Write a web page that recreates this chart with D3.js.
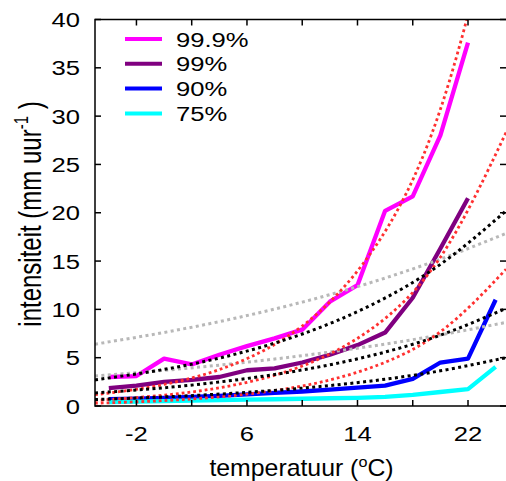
<!DOCTYPE html>
<html>
<head>
<meta charset="utf-8">
<script src="https://cdn.jsdelivr.net/npm/d3@7"></script>
<style>
  body { margin: 0; background: #fff; }
  text { font-family: "Liberation Sans", Arial, Helvetica, sans-serif; fill: #000; }
</style>
</head>
<body>
<svg id="chart" width="506" height="481"></svg>
<script>
var width = 506;
var height = 481;

// temperature bins (°C)
var temps = [-4, -2, 0, 2, 4, 6, 8, 10, 12, 14, 16, 18, 20, 22, 24];

// percentiles of hourly intensity (mm/uur)
var p999 = [3.0, 3.1, 4.9, 4.3, 5.3, 6.2, 7.0, 7.9, 10.8, 12.5, 20.2, 21.7, 28.0, 37.6];
var p99 = [1.85, 2.1, 2.5, 2.7, 3.0, 3.7, 3.9, 4.5, 5.3, 6.3, 7.6, 11.2, 16.3, 21.5];
var p90 = [0.7, 0.75, 0.85, 0.95, 1.05, 1.2, 1.35, 1.5, 1.7, 1.9, 2.1, 2.8, 4.5, 4.9, 11.0];
var p75 = [0.4, 0.45, 0.5, 0.55, 0.6, 0.65, 0.7, 0.75, 0.8, 0.85, 0.95, 1.15, 1.45, 1.75, 4.05];

// dotted reference curves, read at these temperatures
var refTemps = [-5, 0, 5, 10, 15, 20, 24.75];
var redA = [1.16, 2.23, 4.30, 8.28, 15.9, 30.7, 56.6];
var redB = [0.58, 1.12, 2.15, 4.14, 7.97, 15.4, 28.3];
var redC = [0.29, 0.56, 1.08, 2.07, 3.98, 7.68, 14.15];
var blackA = [2.7, 3.79, 5.31, 7.45, 10.45, 14.66, 20.2];
var blackB = [1.35, 1.89, 2.66, 3.73, 5.22, 7.33, 10.1];
var blackC = [0.67, 0.94, 1.32, 1.85, 2.59, 3.64, 5.0];
var grayA = [6.4, 7.61, 9.04, 10.75, 12.79, 15.2, 17.86];
var grayB = [3.1, 3.69, 4.38, 5.21, 6.19, 7.36, 8.65];

var yTicks = [0, 5, 10, 15, 20, 25, 30, 35, 40];
var xTicks = [-2, 2, 6, 10, 14, 18, 22];
var xLabels = [-2, 6, 14, 22];

var legendNames = ["99.9%", "99%", "90%", "75%"];
var legendColors = ["#ff00ff", "#800080", "#0000ff", "#00ffff"];

var plotLeft = 95, plotRight = 506, plotTop = 19.5, plotBottom = 406;

var x = d3.scaleLinear().domain([-5, 24.75]).range([plotLeft, plotRight]);
var y = d3.scaleLinear().domain([0, 40]).range([plotBottom, plotTop]);

var svg = d3.select("#chart");

svg.append("clipPath").attr("id", "plotclip")
    .append("rect")
    .attr("x", plotLeft).attr("y", plotTop)
    .attr("width", plotRight - plotLeft).attr("height", plotBottom - plotTop);

var plot = svg.append("g").attr("clip-path", "url(#plotclip)");

var solidLine = d3.line()
    .x(function(d) { return x(d[0]); })
    .y(function(d) { return y(d[1]); });

var smoothLine = d3.line()
    .curve(d3.curveNatural)
    .x(function(d) { return x(d[0]); })
    .y(function(d) { return y(d[1]); });

function pairs(xs, ys) {
    return ys.map(function(v, i) { return [xs[i], v]; });
}

// solid percentile lines
var solids = [p999, p99, p90, p75];
solids.forEach(function(s, i) {
    plot.append("path")
        .attr("d", solidLine(pairs(temps, s)))
        .attr("fill", "none")
        .attr("stroke", legendColors[i])
        .attr("stroke-width", 4.3)
        .attr("stroke-linejoin", "round");
});

// dotted scaling curves
var dotted = [
    { data: grayA, color: "#b8b8b8", w: 3, dash: "3 3.4" },
    { data: grayB, color: "#b8b8b8", w: 3, dash: "3 3.4" },
    { data: redA, color: "#ff3030", w: 2.8, dash: "2.8 3" },
    { data: redB, color: "#ff3030", w: 2.8, dash: "2.8 3" },
    { data: redC, color: "#ff3030", w: 2.8, dash: "2.8 3" },
    { data: blackA, color: "#000", w: 3, dash: "3 3.4" },
    { data: blackB, color: "#000", w: 3, dash: "3 3.4" },
    { data: blackC, color: "#000", w: 3, dash: "3 3.4" }
];
dotted.forEach(function(c) {
    plot.append("path")
        .attr("d", smoothLine(pairs(refTemps, c.data)))
        .attr("fill", "none")
        .attr("stroke", c.color)
        .attr("stroke-width", c.w)
        .attr("stroke-dasharray", c.dash);
});

// frame
svg.append("rect")
    .attr("x", plotLeft).attr("y", plotTop)
    .attr("width", plotRight - plotLeft + 2).attr("height", plotBottom - plotTop)
    .attr("fill", "none").attr("stroke", "#000").attr("stroke-width", 1.5);

var tickLen = 6;
var ticks = svg.append("g").attr("stroke", "#000").attr("stroke-width", 1.5);
yTicks.forEach(function(v) {
    ticks.append("line").attr("x1", plotLeft).attr("x2", plotLeft + tickLen).attr("y1", y(v)).attr("y2", y(v));
    ticks.append("line").attr("x1", plotRight).attr("x2", plotRight - tickLen).attr("y1", y(v)).attr("y2", y(v));
});
xTicks.forEach(function(v) {
    ticks.append("line").attr("x1", x(v)).attr("x2", x(v)).attr("y1", plotTop).attr("y2", plotTop + tickLen);
    ticks.append("line").attr("x1", x(v)).attr("x2", x(v)).attr("y1", plotBottom).attr("y2", plotBottom - tickLen);
});

function stretchedText(px, py, str, anchor, sx) {
    return svg.append("g")
        .attr("transform", "translate(" + px + "," + py + ") scale(" + sx + ",1)")
        .append("text")
        .attr("text-anchor", anchor)
        .attr("font-size", 21)
        .text(str);
}

yTicks.forEach(function(v) {
    stretchedText(80, y(v) + 7.5, v, "end", 1.22);
});
xLabels.forEach(function(v) {
    stretchedText(x(v), 441, v, "middle", 1.22);
});

// legend
legendNames.forEach(function(name, i) {
    var ly = 39 + i * 24.8;
    svg.append("line")
        .attr("x1", 125).attr("x2", 162).attr("y1", ly).attr("y2", ly)
        .attr("stroke", legendColors[i]).attr("stroke-width", 4);
    stretchedText(176, ly + 7.5, name, "start", 1.22);
});

// axis titles
var xt = svg.append("g")
    .attr("transform", "translate(301.5,476) scale(1.08,1)")
    .append("text").attr("text-anchor", "middle").attr("font-size", 23);
xt.append("tspan").text("temperatuur (");
xt.append("tspan").attr("font-size", 15).attr("dy", -9).text("o");
xt.append("tspan").attr("dy", 9).text("C)");

var yt = svg.append("g")
    .attr("transform", "translate(41,214) rotate(-90) scale(1,1.3)")
    .append("text").attr("text-anchor", "middle").attr("font-size", 24);
yt.append("tspan").text("intensiteit (mm uur");
yt.append("tspan").attr("font-size", 15).attr("dy", -10).text("-1");
yt.append("tspan").attr("dy", 10).text(" )");
</script>
</body>
</html>
